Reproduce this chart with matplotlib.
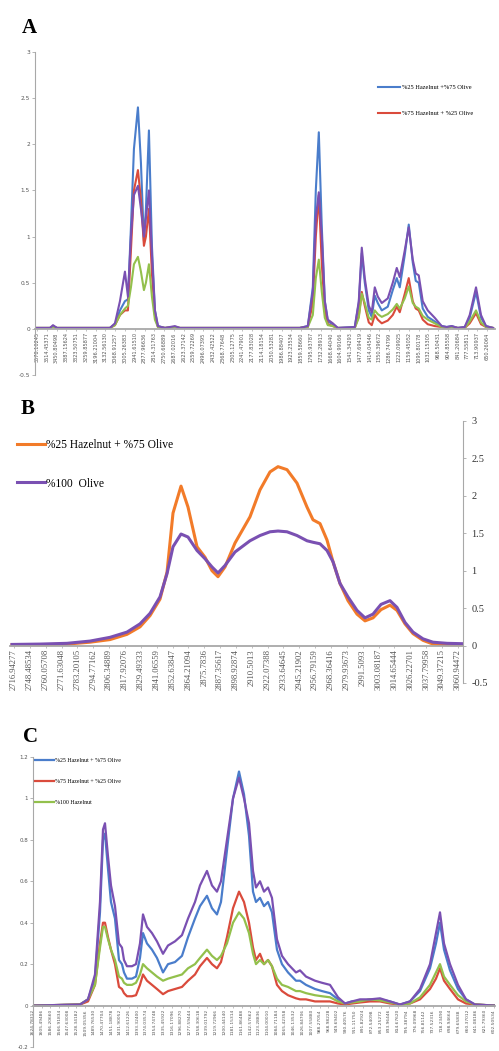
import numpy as np
import matplotlib
matplotlib.use("Agg")
import matplotlib.pyplot as plt

# ---- Panel A: full spectra (wavenumber, cm-1) ----
a_wn = [3578, 3493.5, 3474, 3448, 3103.5, 3071, 3038.5, 3006, 2986.5, 2967,
        2947.5, 2921.5, 2902, 2882.5, 2869.5, 2850, 2830.5, 2811, 2791.5, 2746,
        2681, 2648.5, 1868.5, 1816.5, 1784, 1764.5, 1745, 1725.5, 1706, 1686.5,
        1654, 1621.5, 1511, 1485, 1465.5, 1446, 1420, 1400.5, 1381, 1361.5,
        1335.5, 1296.5, 1264, 1238, 1218.5, 1186, 1160, 1134, 1114.5, 1095,
        1069, 1036.5, 991, 945.5, 913, 880.5, 841.5, 796, 763.5, 722.5,
        690, 657.5, 612]
a_purple = [0.01, 0.01, 0.04, 0.01, 0.01, 0.06, 0.30, 0.62, 0.35, 1.00,
            1.45, 1.55, 1.30, 1.00, 1.20, 1.50, 0.80, 0.20, 0.03, 0.01,
            0.03, 0.01, 0.01, 0.03, 0.40, 1.20, 1.48, 1.00, 0.30, 0.10,
            0.06, 0.01, 0.02, 0.30, 0.88, 0.55, 0.25, 0.18, 0.45, 0.35,
            0.28, 0.33, 0.50, 0.66, 0.56, 0.85, 1.10, 0.75, 0.60, 0.58,
            0.30, 0.20, 0.12, 0.03, 0.02, 0.03, 0.01, 0.02, 0.15, 0.45,
            0.15, 0.03, 0.01]
a_blue = [0.01, 0.01, 0.03, 0.01, 0.01, 0.05, 0.20, 0.30, 0.32, 1.10,
          1.95, 2.40, 1.80, 0.95, 1.30, 2.15, 0.90, 0.20, 0.03, 0.01,
          0.02, 0.01, 0.01, 0.03, 0.45, 1.50, 2.13, 1.10, 0.30, 0.08,
          0.05, 0.01, 0.02, 0.28, 0.82, 0.50, 0.20, 0.13, 0.36, 0.28,
          0.20, 0.24, 0.42, 0.55, 0.45, 0.80, 1.13, 0.72, 0.52, 0.50,
          0.22, 0.13, 0.08, 0.03, 0.02, 0.03, 0.01, 0.02, 0.12, 0.40,
          0.12, 0.03, 0.01]
a_red = [0.01, 0.01, 0.02, 0.01, 0.01, 0.04, 0.15, 0.20, 0.20, 0.85,
         1.50, 1.72, 1.40, 0.90, 1.00, 1.30, 0.60, 0.15, 0.02, 0.01,
         0.02, 0.01, 0.01, 0.02, 0.28, 1.00, 1.45, 0.70, 0.20, 0.05,
         0.03, 0.01, 0.01, 0.14, 0.40, 0.25, 0.07, 0.04, 0.15, 0.10,
         0.06, 0.09, 0.15, 0.24, 0.18, 0.38, 0.55, 0.30, 0.22, 0.20,
         0.10, 0.05, 0.03, 0.02, 0.01, 0.02, 0.01, 0.01, 0.06, 0.17,
         0.05, 0.02, 0.01]
a_green = [0.01, 0.01, 0.02, 0.01, 0.01, 0.04, 0.15, 0.22, 0.25, 0.45,
           0.70, 0.78, 0.62, 0.42, 0.50, 0.70, 0.35, 0.10, 0.02, 0.01,
           0.02, 0.01, 0.01, 0.02, 0.15, 0.55, 0.75, 0.40, 0.12, 0.04,
           0.03, 0.01, 0.01, 0.12, 0.38, 0.28, 0.12, 0.10, 0.20, 0.16,
           0.13, 0.16, 0.21, 0.27, 0.22, 0.33, 0.46, 0.28, 0.24, 0.22,
           0.14, 0.10, 0.06, 0.02, 0.01, 0.02, 0.01, 0.01, 0.08, 0.20,
           0.07, 0.02, 0.01]
a_ticklabels = ["3578.10245", "3514.45371", "3450.80498", "3387.15624", "3323.50751",
                "3259.85877", "3196.21004", "3132.56130", "3068.91257", "3005.26383",
                "2941.61510", "2877.96636", "2814.31763", "2750.66889", "2687.02016",
                "2623.37142", "2559.72269", "2496.07395", "2432.42522", "2368.77648",
                "2305.12775", "2241.47901", "2177.83028", "2114.18154", "2050.53281",
                "1986.88407", "1923.23534", "1859.58660", "1795.93787", "1732.28913",
                "1668.64040", "1604.99166", "1541.34293", "1477.69419", "1414.04546",
                "1350.39672", "1286.74799", "1223.09925", "1159.45052", "1095.80178",
                "1032.15305", "968.50431", "904.85558", "841.20684", "777.55811",
                "713.90937", "650.26064"]
a_yticks = [-0.5, 0, 0.5, 1, 1.5, 2, 2.5, 3]
a_yticklabels = ["-0.5", "0", "0.5", "1", "1.5", "2", "2.5", "3"]

# ---- Panel B: C-H stretching region ----
b_wn = [2735.45, 2755.89, 2775.61, 2792.40, 2807.00, 2819.41, 2828.90, 2836.20, 2843.50, 2848.62,
        2853.00, 2858.84, 2863.95, 2870.52, 2876.36, 2881.47, 2885.85, 2890.96, 2898.26, 2909.21,
        2916.51, 2923.82, 2929.66, 2936.23, 2943.53, 2950.83, 2955.21, 2960.32, 2965.43, 2969.81,
        2974.92, 2980.75, 2987.33, 2993.17, 2999.01, 3004.85, 3011.42, 3016.53, 3022.37, 3028.21,
        3035.51, 3042.81, 3053.03, 3064.72]
b_orange = [0.01, 0.01, 0.02, 0.045, 0.08, 0.15, 0.25, 0.40, 0.62, 0.98,
            1.77, 2.13, 1.85, 1.32, 1.18, 1.00, 0.92, 1.05, 1.37, 1.72,
            2.08, 2.32, 2.39, 2.35, 2.17, 1.85, 1.68, 1.63, 1.41, 1.12,
            0.83, 0.60, 0.42, 0.33, 0.37, 0.48, 0.54, 0.47, 0.29, 0.16,
            0.07, 0.02, 0.01, 0.01]
b_purple = [0.015, 0.02, 0.03, 0.06, 0.11, 0.18, 0.29, 0.43, 0.65, 0.96,
            1.32, 1.49, 1.45, 1.27, 1.16, 1.05, 0.97, 1.07, 1.25, 1.40,
            1.47, 1.52, 1.53, 1.52, 1.47, 1.40, 1.38, 1.36, 1.27, 1.12,
            0.83, 0.65, 0.47, 0.37, 0.42, 0.55, 0.60, 0.51, 0.31, 0.18,
            0.09, 0.045, 0.03, 0.025]
b_ticklabels = ["2716.94277", "2748.48534", "2760.05708", "2771.63048", "2783.20105",
                "2794.77162", "2806.34889", "2817.92076", "2829.49333", "2841.06559",
                "2852.63847", "2864.21094", "2875.7836", "2887.35617", "2898.92874",
                "2910.5013", "2922.07388", "2933.64645", "2945.21902", "2956.79159",
                "2968.36416", "2979.93673", "2991.5093", "3003.08187", "3014.65444",
                "3026.22701", "3037.79958", "3049.37215", "3060.94472"]
b_first_tick = 2736.91
b_tick_step = 11.5726
b_yticks = [-0.5, 0, 0.5, 1, 1.5, 2, 2.5, 3]
b_yticklabels = ["-0.5", "0", "0.5", "1", "1.5", "2", "2.5", "3"]

# ---- Panel C: fingerprint region ----
c_wn = [1624.8, 1520.5, 1502.7, 1487.2, 1476.1, 1469.4, 1465.0, 1458.3, 1451.7, 1442.8,
        1433.9, 1427.3, 1422.8, 1416.2, 1405.1, 1396.2, 1387.3, 1380.6, 1371.8, 1360.7,
        1349.6, 1336.2, 1325.1, 1309.6, 1294.1, 1280.7, 1265.2, 1254.1, 1238.6, 1227.5,
        1216.4, 1207.5, 1194.2, 1180.8, 1167.5, 1156.4, 1145.3, 1136.4, 1129.8, 1120.9,
        1112.0, 1103.1, 1094.3, 1083.2, 1072.1, 1058.7, 1041.0, 1032.1, 1018.8, 998.8,
        983.3, 965.5, 947.7, 932.2, 916.7, 898.9, 876.7, 854.5, 832.3, 810.1,
        787.9, 765.7, 743.5, 730.2, 721.3, 712.4, 699.1, 681.4, 663.6, 643.6,
        599.2]
c_purple = [0, 0.005, 0.03, 0.15, 0.5, 0.85, 0.88, 0.72, 0.58, 0.48,
            0.3, 0.28, 0.22, 0.19, 0.19, 0.2, 0.3, 0.44, 0.38, 0.35,
            0.31, 0.25, 0.29, 0.31, 0.34, 0.42, 0.5, 0.58, 0.65, 0.58,
            0.55, 0.6, 0.8, 1.0, 1.1, 1.0, 0.88, 0.65, 0.57, 0.6,
            0.55, 0.57, 0.52, 0.32, 0.24, 0.2, 0.16, 0.17, 0.14, 0.12,
            0.11, 0.1, 0.04, 0.01, 0.02, 0.03, 0.03, 0.035, 0.02, 0.005,
            0.02, 0.08, 0.2, 0.35, 0.45, 0.3, 0.2, 0.1, 0.03, 0.005,
            0]
c_blue = [0, 0.005, 0.03, 0.13, 0.45, 0.8, 0.83, 0.66, 0.5, 0.42,
          0.22, 0.2, 0.16, 0.13, 0.13, 0.14, 0.23, 0.35, 0.3, 0.27,
          0.23, 0.16, 0.2, 0.21, 0.24, 0.33, 0.42, 0.48, 0.53, 0.47,
          0.44, 0.5, 0.75, 1.0, 1.13, 1.02, 0.82, 0.55, 0.5, 0.52,
          0.48, 0.5, 0.45, 0.27, 0.2, 0.16, 0.12, 0.12, 0.1, 0.08,
          0.07, 0.06, 0.03, 0.01, 0.02, 0.02, 0.03, 0.03, 0.02, 0.005,
          0.02, 0.07, 0.18, 0.3, 0.4, 0.27, 0.17, 0.08, 0.03, 0.005,
          0]
c_red = [0, 0.005, 0.02, 0.1, 0.3, 0.4, 0.4, 0.33, 0.27, 0.2,
         0.09, 0.08, 0.06, 0.045, 0.045, 0.05, 0.1, 0.15, 0.12, 0.1,
         0.08, 0.055, 0.07, 0.08, 0.09, 0.12, 0.15, 0.19, 0.23, 0.2,
         0.18, 0.21, 0.33, 0.47, 0.55, 0.5, 0.4, 0.28, 0.22, 0.25,
         0.2, 0.22, 0.19, 0.1, 0.07, 0.05, 0.035, 0.03, 0.03, 0.02,
         0.02, 0.02, 0.01, 0.005, 0.01, 0.015, 0.02, 0.02, 0.01, 0.005,
         0.01, 0.03, 0.08, 0.13, 0.18, 0.12, 0.08, 0.03, 0.01, 0.005,
         0]
c_green = [0, 0.005, 0.03, 0.1, 0.28, 0.38, 0.38, 0.32, 0.27, 0.22,
           0.14, 0.13, 0.11, 0.1, 0.1, 0.11, 0.15, 0.2, 0.18, 0.16,
           0.14, 0.12, 0.13, 0.14, 0.15, 0.18, 0.2, 0.23, 0.27, 0.24,
           0.22, 0.24, 0.3, 0.4, 0.45, 0.42, 0.35, 0.25, 0.2, 0.22,
           0.2, 0.22, 0.19, 0.13, 0.1, 0.09, 0.07, 0.07, 0.06, 0.05,
           0.045, 0.04, 0.02, 0.01, 0.015, 0.02, 0.03, 0.025, 0.015, 0.005,
           0.01, 0.04, 0.1, 0.16, 0.2, 0.14, 0.1, 0.05, 0.02, 0.005,
           0]
c_ticklabels = ["1624.78312", "1605.49486", "1586.20660", "1566.91834", "1547.63008",
                "1528.34182", "1509.05356", "1489.76530", "1470.47704", "1451.18878",
                "1431.90052", "1412.61226", "1393.32400", "1374.03574", "1354.74748",
                "1335.45922", "1316.17096", "1296.88270", "1277.59444", "1258.30618",
                "1239.01792", "1219.72966", "1200.44140", "1181.15314", "1161.86488",
                "1142.57662", "1123.28836", "1104.00010", "1084.71184", "1065.42358",
                "1046.13532", "1026.84706", "1007.55880", "988.27054", "968.98228",
                "949.69402", "930.40576", "911.11750", "891.82924", "872.54098",
                "853.25272", "833.96446", "814.67620", "795.38794", "776.09968",
                "756.81142", "737.52316", "718.23490", "698.94664", "679.65838",
                "660.37012", "641.08186", "621.79360", "602.50534"]
c_yticks = [-0.2, 0, 0.2, 0.4, 0.6, 0.8, 1, 1.2]
c_yticklabels = ["-0.2", "0", "0.2", "0.4", "0.6", "0.8", "1", "1.2"]

# colours
BLUE = "#4A7DCB"
RED = "#DA4B3C"
GREEN = "#93C04C"
PURPLE = "#7A50B2"
ORANGE = "#F27B29"
AXIS = "#A8A8A8"
SERIF = "Liberation Serif"

W, H = 499, 1051
fig = plt.figure(figsize=(W / 100, H / 100), dpi=100)


def px_axes(x0, y0, x1, y1):
    # axes rectangle given in pixel corners (top-left origin)
    return fig.add_axes([x0 / W, 1 - y1 / H, (x1 - x0) / W, (y1 - y0) / H])


def style(ax, side="left", tsize=3.6, ysize=4.2, yfamily="DejaVu Sans", xfamily="DejaVu Sans"):
    for s in ["top", "right", "left"]:
        ax.spines[s].set_visible(False)
    ax.spines[side].set_visible(True)
    ax.spines[side].set_color(AXIS)
    ax.spines[side].set_linewidth(0.8)
    ax.spines["bottom"].set_position(("data", 0))
    ax.spines["bottom"].set_color(AXIS)
    ax.spines["bottom"].set_linewidth(1.3)
    ax.tick_params(axis="x", length=1.5, width=0.5, color=AXIS, pad=1,
                   labelsize=tsize, labelcolor="#555555", rotation=90)
    ax.tick_params(axis="y", length=2, width=0.6, color=AXIS, pad=1.5,
                   labelsize=ysize, labelcolor="#555555")
    for t in ax.get_xticklabels():
        t.set_family(xfamily)
    for t in ax.get_yticklabels():
        t.set_family(yfamily)
    ax.patch.set_alpha(0)


# ---- A ----
axA = px_axes(35, 52, 495, 375)
axA.plot(a_wn, a_blue, color=BLUE, lw=1.5, label="%25 Hazelnut +%75 Olive")
axA.plot(a_wn, a_red, color=RED, lw=1.5, label="%75 Hazelnut + %25 Olive")
axA.plot(a_wn, a_green, color=GREEN, lw=1.5)
axA.plot(a_wn, a_purple, color=PURPLE, lw=1.5)
axA.set_xlim(3591, 599)
axA.set_ylim(-0.5, 3)
axA.set_xticks([float(s) for s in a_ticklabels])
axA.set_xticklabels(a_ticklabels)
axA.set_yticks(a_yticks)
axA.set_yticklabels(a_yticklabels)
style(axA)
axA.legend(loc="upper left", bbox_to_anchor=(378 / W, 1 - 85 / H),
           bbox_transform=fig.transFigure, frameon=False,
           prop={"family": SERIF, "size": 4.6}, handlelength=3.4,
           handletextpad=0.3, labelspacing=3.2, borderpad=0, borderaxespad=0)
fig.text(29 / W, 1 - 28 / H, "A", family=SERIF, weight="bold", size=15,
         ha="center", va="center")

# ---- B ----
axB = px_axes(10, 421, 463, 683)
axB.plot(b_wn, b_orange, color=ORANGE, lw=2.2, label="%25 Hazelnut + %75 Olive")
axB.plot(b_wn, b_purple, color=PURPLE, lw=2.2, label="%100  Olive")
axB.set_xlim(2733.99, 3064.72)
axB.set_ylim(-0.5, 3)
axB.set_xticks([b_first_tick + i * b_tick_step for i in range(len(b_ticklabels))])
axB.set_xticklabels(b_ticklabels)
axB.set_yticks(b_yticks)
axB.set_yticklabels(b_yticklabels)
axB.yaxis.tick_right()
style(axB, side="right", tsize=6.2, ysize=7.5, yfamily=SERIF, xfamily=SERIF)
axB.tick_params(axis="y", labelcolor="#333333", pad=4)
axB.legend(loc="upper left", bbox_to_anchor=(17 / W, 1 - 439 / H),
           bbox_transform=fig.transFigure, frameon=False,
           prop={"family": SERIF, "size": 8.3}, handlelength=2.4,
           handletextpad=0.1, labelspacing=2.3, borderpad=0, borderaxespad=0)
fig.text(28 / W, 1 - 409 / H, "B", family=SERIF, weight="bold", size=15,
         ha="center", va="center")

# ---- C ----
axC = px_axes(33, 757, 495, 1047)
axC.plot(c_wn, c_blue, color=BLUE, lw=1.6, label="%25 Hazelnut + %75 Olive")
axC.plot(c_wn, c_red, color=RED, lw=1.6, label="%75 Hazelnut + %25 Olive")
axC.plot(c_wn, c_green, color=GREEN, lw=1.6, label="%100 Hazelnut")
axC.plot(c_wn, c_purple, color=PURPLE, lw=1.6)
axC.set_xlim(1624.8, 599.2)
axC.set_ylim(-0.2, 1.2)
axC.set_xticks([float(s) for s in c_ticklabels])
axC.set_xticklabels(c_ticklabels)
axC.set_yticks(c_yticks)
axC.set_yticklabels(c_yticklabels)
style(axC, tsize=3.2, ysize=4.0)
axC.legend(loc="upper left", bbox_to_anchor=(35 / W, 1 - 758 / H),
           bbox_transform=fig.transFigure, frameon=False,
           prop={"family": SERIF, "size": 4.2}, handlelength=3.2,
           handletextpad=0.3, labelspacing=2.7, borderpad=0, borderaxespad=0)
fig.text(30 / W, 1 - 737 / H, "C", family=SERIF, weight="bold", size=15,
         ha="center", va="center")

fig.savefig("out.png", dpi=100)
